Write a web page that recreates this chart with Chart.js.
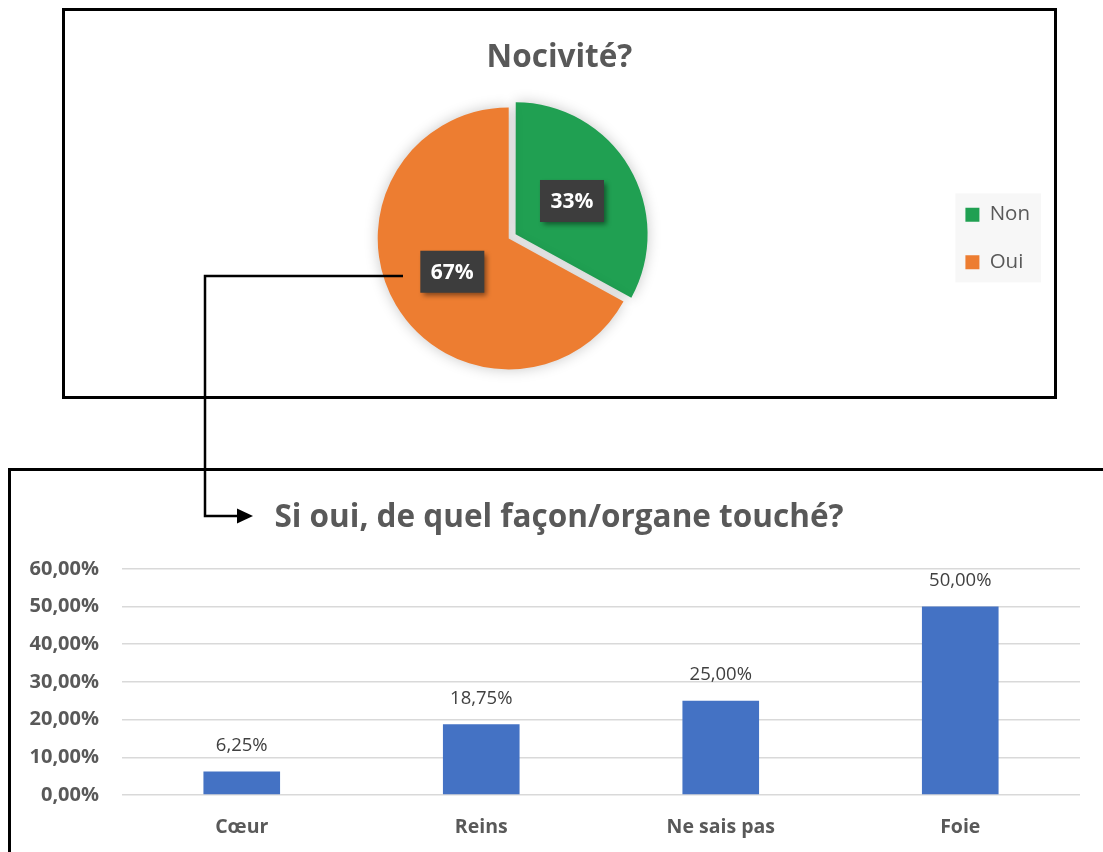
<!DOCTYPE html>
<html>
<head>
<meta charset="utf-8">
<script src="https://cdn.jsdelivr.net/npm/chart.js@4.4.1/dist/chart.umd.min.js"></script>
<style>
    html, body { margin: 0; padding: 0; background: #fff; }
    body { width: 1103px; height: 852px; position: relative; overflow: hidden; font-family: "Open Sans", sans-serif; }
    .frame { position: absolute; border: 3px solid #000; box-sizing: border-box; background: #fff; }
    #pieFrame { left: 62px; top: 8px; width: 995px; height: 391px; }
    #barFrame { left: 8px; top: 468px; width: 1110px; height: 400px; }
    #pieWrap { position: absolute; left: 65px; top: 11px; width: 989px; height: 385px; }
    #barWrap { position: absolute; left: 11px; top: 471px; width: 1092px; height: 381px; }
    #link { position: absolute; left: 0; top: 0; z-index: 5; pointer-events: none; }
</style>
</head>
<body>
<div class="frame" id="pieFrame"></div>
<div class="frame" id="barFrame"></div>
<div id="pieWrap"><canvas id="pieChart"></canvas></div>
<div id="barWrap"><canvas id="barChart"></canvas></div>
<svg id="link" width="1103" height="852">
    <polyline points="403,276 205,276 205,516 240,516" fill="none" stroke="#000" stroke-width="2.5"/>
    <polygon points="237,508.5 253,516 237,523.5" fill="#000"/>
</svg>
<script>
// Data
const pieLabels = ["Non", "Oui"];
const pieValues = [33, 67];
const pieColors = ["#20a052", "#ed7d31"];

const barLabels = ["Cœur", "Reins", "Ne sais pas", "Foie"];
const barValues = [6.25, 18.75, 25, 50];
const yTicks = [0, 10, 20, 30, 40, 50, 60];

const FONT = "'Open Sans', sans-serif";
const GREY = "#595959";
const EXPLODE = 8; // px the "Non" slice is pulled out

function pct(v) {
    return v.toFixed(2).replace(".", ",") + "%";
}

// soft shadow under the pie
const pieShadow = {
    id: "pieShadow",
    beforeDatasetsDraw(chart) {
        const ctx = chart.ctx;
        ctx.save();
        ctx.shadowColor = "rgba(0,0,0,0.22)";
        ctx.shadowBlur = 14;
    },
    afterDatasetsDraw(chart) {
        chart.ctx.restore();
    }
};

// dark label boxes on slices
const pieLabelsPlugin = {
    id: "pieLabelsPlugin",
    afterDatasetsDraw(chart) {
        const ctx = chart.ctx;
        const meta = chart.getDatasetMeta(0);
        const total = pieValues.reduce((a, b) => a + b, 0);
        ctx.save();
        ctx.font = "bold 21px " + FONT;
        ctx.textAlign = "center";
        ctx.textBaseline = "middle";
        meta.data.forEach((arc, i) => {
            const a = arc.getProps(["x", "y", "startAngle", "endAngle", "outerRadius"], true);
            const mid = (a.startAngle + a.endAngle) / 2;
            const r = a.outerRadius / 2 + (i === 0 ? EXPLODE : 0);
            const px = a.x + Math.cos(mid) * r;
            const py = a.y + Math.sin(mid) * r;
            const txt = Math.round(pieValues[i] / total * 100) + "%";
            const w = 64, h = 42;
            ctx.shadowColor = "rgba(0,0,0,0.45)";
            ctx.shadowBlur = 5;
            ctx.shadowOffsetX = 3;
            ctx.shadowOffsetY = 3;
            ctx.fillStyle = "#3d3d3d";
            ctx.fillRect(px - w / 2, py - h / 2, w, h);
            ctx.shadowColor = "transparent";
            ctx.fillStyle = "#fff";
            ctx.fillText(txt, px, py + 1);
        });
        ctx.restore();
    }
};

// light background behind the legend
const legendBg = {
    id: "legendBg",
    beforeDraw(chart) {
        const boxes = chart.legend && chart.legend.legendHitBoxes;
        if (!boxes || !boxes.length) return;
        const left = Math.min(...boxes.map(b => b.left)) - 10;
        const right = Math.max(...boxes.map(b => b.left + b.width)) + 11;
        const top = Math.min(...boxes.map(b => b.top)) - 11;
        const bottom = Math.max(...boxes.map(b => b.top + b.height)) + 10;
        const ctx = chart.ctx;
        ctx.save();
        ctx.fillStyle = "#f7f7f7";
        ctx.fillRect(left, top, right - left, bottom - top);
        ctx.restore();
    }
};

new Chart(document.getElementById("pieChart"), {
    type: "pie",
    data: {
        labels: pieLabels,
        datasets: [{
            data: pieValues,
            backgroundColor: pieColors,
            borderWidth: 0,
            offset: ctx => ctx.dataIndex === 0 ? EXPLODE * 4 : 0,
            hoverOffset: 0
        }]
    },
    options: {
        responsive: true,
        maintainAspectRatio: false,
        animation: false,
        radius: 131,
        layout: { padding: { left: 14, right: 14, bottom: 6 } },
        plugins: {
            title: {
                display: true,
                text: "Nocivité?",
                color: GREY,
                font: { family: FONT, size: 31.5, weight: "bold" },
                padding: { top: 28, bottom: 10 }
            },
            legend: {
                position: "right",
                fullSize: false,
                labels: {
                    color: GREY,
                    font: { family: FONT, size: 20.5 },
                    boxWidth: 14,
                    boxHeight: 14,
                    padding: 27
                }
            },
            tooltip: { enabled: false }
        }
    },
    plugins: [legendBg, pieShadow, pieLabelsPlugin]
});

// value labels above bars
const barValueLabels = {
    id: "barValueLabels",
    afterDatasetsDraw(chart) {
        const ctx = chart.ctx;
        const meta = chart.getDatasetMeta(0);
        ctx.save();
        ctx.font = "18.5px " + FONT;
        ctx.fillStyle = "#404040";
        ctx.textAlign = "center";
        ctx.textBaseline = "middle";
        meta.data.forEach((bar, i) => {
            ctx.fillText(pct(barValues[i]), bar.x, bar.y - 26);
        });
        ctx.restore();
    }
};

// title is centred on the frame, not on the padded area
const titleNudge = {
    id: "titleNudge",
    afterLayout(chart) {
        if (chart.titleBlock) chart.titleBlock.left += 16;
    }
};

new Chart(document.getElementById("barChart"), {
    type: "bar",
    data: {
        labels: barLabels,
        datasets: [{
            data: barValues,
            backgroundColor: "#4472c4",
            categoryPercentage: 1,
            barPercentage: 0.32
        }]
    },
    options: {
        responsive: true,
        maintainAspectRatio: false,
        animation: false,
        layout: { padding: { left: 11, right: 23, bottom: 0 } },
        scales: {
            x: {
                afterFit(scale) { scale.height = 57; },
                grid: { display: false, drawTicks: false },
                border: { display: false },
                ticks: {
                    color: GREY,
                    font: { family: FONT, size: 19.5, weight: "bold" },
                    padding: 21
                }
            },
            y: {
                min: yTicks[0],
                max: yTicks[yTicks.length - 1],
                afterFit(scale) { scale.width = 100; },
                afterBuildTicks(scale) { scale.ticks = yTicks.map(v => ({ value: v })); },
                grid: { color: "#d9d9d9", lineWidth: 1.5, drawTicks: false },
                border: { display: false },
                ticks: {
                    color: GREY,
                    font: { family: FONT, size: 20, weight: "bold" },
                    padding: 23,
                    callback: v => pct(v)
                }
            }
        },
        plugins: {
            title: {
                display: true,
                text: "Si oui, de quel façon/organe touché?",
                color: GREY,
                font: { family: FONT, size: 31.5, weight: "bold" },
                padding: { top: 28, bottom: 32 }
            },
            legend: { display: false },
            tooltip: { enabled: false }
        }
    },
    plugins: [titleNudge, barValueLabels]
});
</script>
</body>
</html>
